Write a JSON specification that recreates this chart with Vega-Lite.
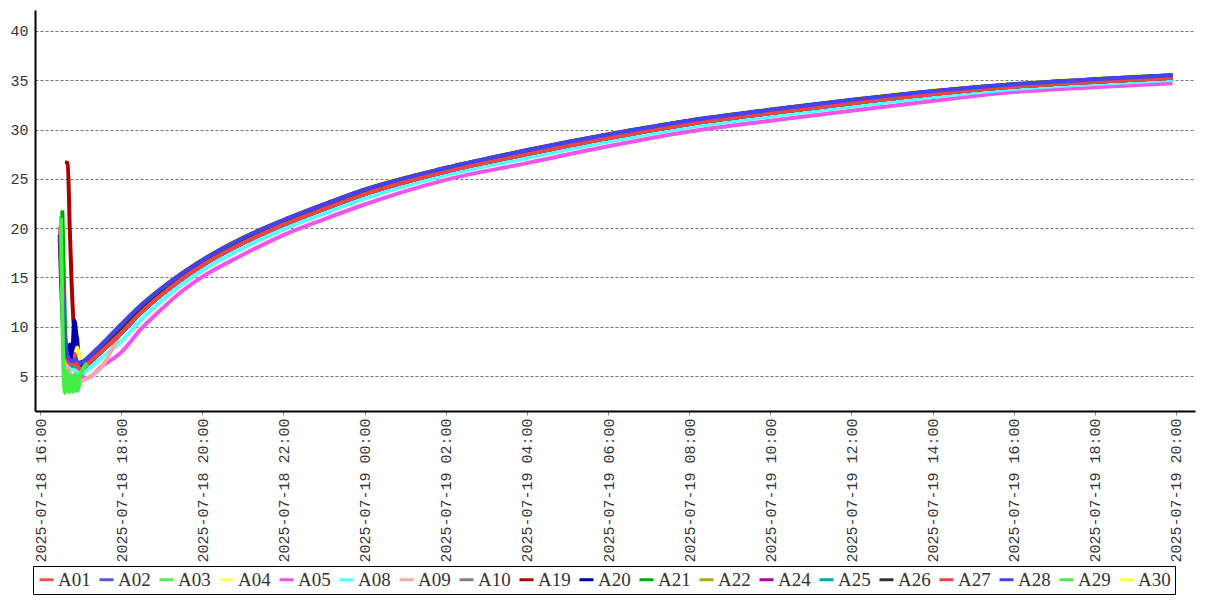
{
"$schema": "https://vega.github.io/schema/vega-lite/v6.json",
"width": 1160, "height": 401,
"autosize": {"type": "none"},
"padding": {"left": 35, "top": 10, "right": 12, "bottom": 189},
"background": "white",
"config": {"view": {"stroke": null}},
"data": {"values": [
{"s":"A01","t":"2025-07-18T16:30","v":20.1},{"s":"A01","t":"2025-07-18T16:35","v":11.0},{"s":"A01","t":"2025-07-18T16:40","v":7.2},{"s":"A01","t":"2025-07-18T16:45","v":6.4},{"s":"A01","t":"2025-07-18T16:50","v":6.0},{"s":"A01","t":"2025-07-18T16:55","v":6.2},{"s":"A01","t":"2025-07-18T17:00","v":5.7},{"s":"A01","t":"2025-07-18T17:05","v":5.9},
{"s":"A01","t":"2025-07-18T17:10","v":6.2},{"s":"A01","t":"2025-07-18T17:30","v":7.44},{"s":"A01","t":"2025-07-18T18:00","v":9.36},{"s":"A01","t":"2025-07-18T18:30","v":11.48},{"s":"A01","t":"2025-07-18T19:00","v":13.27},{"s":"A01","t":"2025-07-18T19:30","v":14.86},{"s":"A01","t":"2025-07-18T20:00","v":16.24},{"s":"A01","t":"2025-07-18T21:00","v":18.49},{"s":"A01","t":"2025-07-18T22:00","v":20.35},{"s":"A01","t":"2025-07-18T23:00","v":21.95},{"s":"A01","t":"2025-07-19T00:00","v":23.45},{"s":"A01","t":"2025-07-19T02:00","v":25.74},{"s":"A01","t":"2025-07-19T04:00","v":27.51},{"s":"A01","t":"2025-07-19T06:00","v":29.14},{"s":"A01","t":"2025-07-19T08:00","v":30.57},{"s":"A01","t":"2025-07-19T10:00","v":31.67},{"s":"A01","t":"2025-07-19T12:00","v":32.67},{"s":"A01","t":"2025-07-19T14:00","v":33.6},{"s":"A01","t":"2025-07-19T16:00","v":34.36},{"s":"A01","t":"2025-07-19T18:00","v":34.86},{"s":"A01","t":"2025-07-19T19:55","v":35.26},

{"s":"A02","t":"2025-07-18T16:30","v":19.3},{"s":"A02","t":"2025-07-18T16:35","v":10.5},{"s":"A02","t":"2025-07-18T16:40","v":7.0},{"s":"A02","t":"2025-07-18T16:45","v":6.6},{"s":"A02","t":"2025-07-18T16:50","v":6.5},{"s":"A02","t":"2025-07-18T16:55","v":6.6},{"s":"A02","t":"2025-07-18T17:00","v":6.2},{"s":"A02","t":"2025-07-18T17:05","v":6.4},
{"s":"A02","t":"2025-07-18T17:10","v":6.8},{"s":"A02","t":"2025-07-18T17:30","v":8.1},{"s":"A02","t":"2025-07-18T18:00","v":10.2},{"s":"A02","t":"2025-07-18T18:30","v":12.2},{"s":"A02","t":"2025-07-18T19:00","v":13.9},{"s":"A02","t":"2025-07-18T19:30","v":15.4},{"s":"A02","t":"2025-07-18T20:00","v":16.75},{"s":"A02","t":"2025-07-18T21:00","v":19.0},{"s":"A02","t":"2025-07-18T22:00","v":20.8},{"s":"A02","t":"2025-07-18T23:00","v":22.4},{"s":"A02","t":"2025-07-19T00:00","v":23.9},{"s":"A02","t":"2025-07-19T02:00","v":26.1},{"s":"A02","t":"2025-07-19T04:00","v":27.9},{"s":"A02","t":"2025-07-19T06:00","v":29.5},{"s":"A02","t":"2025-07-19T08:00","v":30.9},{"s":"A02","t":"2025-07-19T10:00","v":32.0},{"s":"A02","t":"2025-07-19T12:00","v":33.0},{"s":"A02","t":"2025-07-19T14:00","v":33.9},{"s":"A02","t":"2025-07-19T16:00","v":34.6},{"s":"A02","t":"2025-07-19T18:00","v":35.1},{"s":"A02","t":"2025-07-19T19:55","v":35.5},

{"s":"A03","t":"2025-07-18T16:31","v":21.2},{"s":"A03","t":"2025-07-18T16:35","v":9.0},{"s":"A03","t":"2025-07-18T16:38","v":3.5},{"s":"A03","t":"2025-07-18T16:41","v":5.2},{"s":"A03","t":"2025-07-18T16:44","v":3.4},{"s":"A03","t":"2025-07-18T16:47","v":5.0},{"s":"A03","t":"2025-07-18T16:50","v":3.5},{"s":"A03","t":"2025-07-18T16:53","v":5.2},{"s":"A03","t":"2025-07-18T16:56","v":3.6},{"s":"A03","t":"2025-07-18T17:00","v":4.6},{"s":"A03","t":"2025-07-18T17:05","v":5.3},
{"s":"A03","t":"2025-07-18T17:10","v":6.2},{"s":"A03","t":"2025-07-18T17:30","v":7.44},{"s":"A03","t":"2025-07-18T18:00","v":9.36},{"s":"A03","t":"2025-07-18T18:30","v":11.48},{"s":"A03","t":"2025-07-18T19:00","v":13.27},{"s":"A03","t":"2025-07-18T19:30","v":14.86},{"s":"A03","t":"2025-07-18T20:00","v":16.24},{"s":"A03","t":"2025-07-18T21:00","v":18.49},{"s":"A03","t":"2025-07-18T22:00","v":20.35},{"s":"A03","t":"2025-07-18T23:00","v":21.95},{"s":"A03","t":"2025-07-19T00:00","v":23.45},{"s":"A03","t":"2025-07-19T02:00","v":25.74},{"s":"A03","t":"2025-07-19T04:00","v":27.51},{"s":"A03","t":"2025-07-19T06:00","v":29.14},{"s":"A03","t":"2025-07-19T08:00","v":30.57},{"s":"A03","t":"2025-07-19T10:00","v":31.67},{"s":"A03","t":"2025-07-19T12:00","v":32.67},{"s":"A03","t":"2025-07-19T14:00","v":33.6},{"s":"A03","t":"2025-07-19T16:00","v":34.36},{"s":"A03","t":"2025-07-19T18:00","v":34.86},{"s":"A03","t":"2025-07-19T19:55","v":35.26},

{"s":"A04","t":"2025-07-18T16:31","v":19.0},{"s":"A04","t":"2025-07-18T16:36","v":10.0},{"s":"A04","t":"2025-07-18T16:40","v":7.0},{"s":"A04","t":"2025-07-18T16:45","v":6.5},{"s":"A04","t":"2025-07-18T16:50","v":6.8},{"s":"A04","t":"2025-07-18T16:55","v":7.8},{"s":"A04","t":"2025-07-18T17:00","v":6.5},{"s":"A04","t":"2025-07-18T17:05","v":6.6},
{"s":"A04","t":"2025-07-18T17:10","v":6.86},{"s":"A04","t":"2025-07-18T17:30","v":8.16},{"s":"A04","t":"2025-07-18T18:00","v":10.26},{"s":"A04","t":"2025-07-18T18:30","v":12.26},{"s":"A04","t":"2025-07-18T19:00","v":13.96},{"s":"A04","t":"2025-07-18T19:30","v":15.46},{"s":"A04","t":"2025-07-18T20:00","v":16.81},{"s":"A04","t":"2025-07-18T21:00","v":19.06},{"s":"A04","t":"2025-07-18T22:00","v":20.86},{"s":"A04","t":"2025-07-18T23:00","v":22.46},{"s":"A04","t":"2025-07-19T00:00","v":23.96},{"s":"A04","t":"2025-07-19T02:00","v":26.16},{"s":"A04","t":"2025-07-19T04:00","v":27.96},{"s":"A04","t":"2025-07-19T06:00","v":29.56},{"s":"A04","t":"2025-07-19T08:00","v":30.96},{"s":"A04","t":"2025-07-19T10:00","v":32.06},{"s":"A04","t":"2025-07-19T12:00","v":33.06},{"s":"A04","t":"2025-07-19T14:00","v":33.96},{"s":"A04","t":"2025-07-19T16:00","v":34.66},{"s":"A04","t":"2025-07-19T18:00","v":35.16},{"s":"A04","t":"2025-07-19T19:55","v":35.56},

{"s":"A05","t":"2025-07-18T16:30","v":19.5},{"s":"A05","t":"2025-07-18T16:35","v":11.0},{"s":"A05","t":"2025-07-18T16:40","v":7.0},{"s":"A05","t":"2025-07-18T16:45","v":6.0},{"s":"A05","t":"2025-07-18T16:50","v":5.8},{"s":"A05","t":"2025-07-18T16:55","v":5.5},{"s":"A05","t":"2025-07-18T17:00","v":5.0},{"s":"A05","t":"2025-07-18T17:05","v":4.8},
{"s":"A05","t":"2025-07-18T17:10","v":4.8},{"s":"A05","t":"2025-07-18T17:30","v":5.9},{"s":"A05","t":"2025-07-18T18:00","v":7.4},{"s":"A05","t":"2025-07-18T18:30","v":9.8},{"s":"A05","t":"2025-07-18T19:00","v":11.8},{"s":"A05","t":"2025-07-18T19:30","v":13.6},{"s":"A05","t":"2025-07-18T20:00","v":15.05},{"s":"A05","t":"2025-07-18T21:00","v":17.3},{"s":"A05","t":"2025-07-18T22:00","v":19.3},{"s":"A05","t":"2025-07-18T23:00","v":20.9},{"s":"A05","t":"2025-07-19T00:00","v":22.4},{"s":"A05","t":"2025-07-19T02:00","v":24.9},{"s":"A05","t":"2025-07-19T04:00","v":26.6},{"s":"A05","t":"2025-07-19T06:00","v":28.3},{"s":"A05","t":"2025-07-19T08:00","v":29.8},{"s":"A05","t":"2025-07-19T10:00","v":30.9},{"s":"A05","t":"2025-07-19T12:00","v":31.9},{"s":"A05","t":"2025-07-19T14:00","v":32.9},{"s":"A05","t":"2025-07-19T16:00","v":33.8},{"s":"A05","t":"2025-07-19T18:00","v":34.3},{"s":"A05","t":"2025-07-19T19:55","v":34.7},

{"s":"A08","t":"2025-07-18T16:31","v":19.2},{"s":"A08","t":"2025-07-18T16:36","v":10.0},{"s":"A08","t":"2025-07-18T16:40","v":6.8},{"s":"A08","t":"2025-07-18T16:45","v":5.8},{"s":"A08","t":"2025-07-18T16:50","v":5.6},{"s":"A08","t":"2025-07-18T16:55","v":5.4},{"s":"A08","t":"2025-07-18T17:00","v":5.3},{"s":"A08","t":"2025-07-18T17:05","v":5.4},
{"s":"A08","t":"2025-07-18T17:10","v":5.6},{"s":"A08","t":"2025-07-18T17:30","v":6.78},{"s":"A08","t":"2025-07-18T18:00","v":8.52},{"s":"A08","t":"2025-07-18T18:30","v":10.76},{"s":"A08","t":"2025-07-18T19:00","v":12.64},{"s":"A08","t":"2025-07-18T19:30","v":14.32},{"s":"A08","t":"2025-07-18T20:00","v":15.73},{"s":"A08","t":"2025-07-18T21:00","v":17.98},{"s":"A08","t":"2025-07-18T22:00","v":19.9},{"s":"A08","t":"2025-07-18T23:00","v":21.5},{"s":"A08","t":"2025-07-19T00:00","v":23.0},{"s":"A08","t":"2025-07-19T02:00","v":25.38},{"s":"A08","t":"2025-07-19T04:00","v":27.12},{"s":"A08","t":"2025-07-19T06:00","v":28.78},{"s":"A08","t":"2025-07-19T08:00","v":30.24},{"s":"A08","t":"2025-07-19T10:00","v":31.34},{"s":"A08","t":"2025-07-19T12:00","v":32.34},{"s":"A08","t":"2025-07-19T14:00","v":33.3},{"s":"A08","t":"2025-07-19T16:00","v":34.12},{"s":"A08","t":"2025-07-19T18:00","v":34.62},{"s":"A08","t":"2025-07-19T19:55","v":35.02},

{"s":"A09","t":"2025-07-18T16:31","v":19.0},{"s":"A09","t":"2025-07-18T16:36","v":9.5},{"s":"A09","t":"2025-07-18T16:40","v":6.5},{"s":"A09","t":"2025-07-18T16:45","v":5.2},{"s":"A09","t":"2025-07-18T16:50","v":4.7},{"s":"A09","t":"2025-07-18T16:55","v":4.6},{"s":"A09","t":"2025-07-18T17:00","v":4.5},{"s":"A09","t":"2025-07-18T17:05","v":4.6},
{"s":"A09","t":"2025-07-18T17:10","v":4.8},{"s":"A09","t":"2025-07-18T17:30","v":5.8},{"s":"A09","t":"2025-07-18T18:00","v":9.36},{"s":"A09","t":"2025-07-18T18:30","v":11.48},{"s":"A09","t":"2025-07-18T19:00","v":13.27},{"s":"A09","t":"2025-07-18T19:30","v":14.86},{"s":"A09","t":"2025-07-18T20:00","v":16.24},{"s":"A09","t":"2025-07-18T21:00","v":18.49},{"s":"A09","t":"2025-07-18T22:00","v":20.35},{"s":"A09","t":"2025-07-18T23:00","v":21.95},{"s":"A09","t":"2025-07-19T00:00","v":23.45},{"s":"A09","t":"2025-07-19T02:00","v":25.74},{"s":"A09","t":"2025-07-19T04:00","v":27.51},{"s":"A09","t":"2025-07-19T06:00","v":29.14},{"s":"A09","t":"2025-07-19T08:00","v":30.57},{"s":"A09","t":"2025-07-19T10:00","v":31.67},{"s":"A09","t":"2025-07-19T12:00","v":32.67},{"s":"A09","t":"2025-07-19T14:00","v":33.6},{"s":"A09","t":"2025-07-19T16:00","v":34.36},{"s":"A09","t":"2025-07-19T18:00","v":34.86},{"s":"A09","t":"2025-07-19T19:55","v":35.26},

{"s":"A10","t":"2025-07-18T16:30","v":19.3},{"s":"A10","t":"2025-07-18T16:35","v":10.0},{"s":"A10","t":"2025-07-18T16:40","v":7.0},{"s":"A10","t":"2025-07-18T16:45","v":6.5},{"s":"A10","t":"2025-07-18T16:50","v":7.5},{"s":"A10","t":"2025-07-18T16:55","v":9.0},{"s":"A10","t":"2025-07-18T16:57","v":7.0},{"s":"A10","t":"2025-07-18T17:00","v":6.2},{"s":"A10","t":"2025-07-18T17:05","v":6.0},
{"s":"A10","t":"2025-07-18T17:10","v":6.2},{"s":"A10","t":"2025-07-18T17:30","v":7.44},{"s":"A10","t":"2025-07-18T18:00","v":9.36},{"s":"A10","t":"2025-07-18T18:30","v":11.48},{"s":"A10","t":"2025-07-18T19:00","v":13.27},{"s":"A10","t":"2025-07-18T19:30","v":14.86},{"s":"A10","t":"2025-07-18T20:00","v":16.24},{"s":"A10","t":"2025-07-18T21:00","v":18.49},{"s":"A10","t":"2025-07-18T22:00","v":20.35},{"s":"A10","t":"2025-07-18T23:00","v":21.95},{"s":"A10","t":"2025-07-19T00:00","v":23.45},{"s":"A10","t":"2025-07-19T02:00","v":25.74},{"s":"A10","t":"2025-07-19T04:00","v":27.51},{"s":"A10","t":"2025-07-19T06:00","v":29.14},{"s":"A10","t":"2025-07-19T08:00","v":30.57},{"s":"A10","t":"2025-07-19T10:00","v":31.67},{"s":"A10","t":"2025-07-19T12:00","v":32.67},{"s":"A10","t":"2025-07-19T14:00","v":33.6},{"s":"A10","t":"2025-07-19T16:00","v":34.36},{"s":"A10","t":"2025-07-19T18:00","v":34.86},{"s":"A10","t":"2025-07-19T19:55","v":35.26},

{"s":"A19","t":"2025-07-18T16:37","v":26.7},{"s":"A19","t":"2025-07-18T16:41","v":26.6},{"s":"A19","t":"2025-07-18T16:44","v":20.0},{"s":"A19","t":"2025-07-18T16:47","v":14.0},{"s":"A19","t":"2025-07-18T16:51","v":9.0},{"s":"A19","t":"2025-07-18T16:55","v":7.0},{"s":"A19","t":"2025-07-18T17:00","v":6.3},{"s":"A19","t":"2025-07-18T17:05","v":6.1},
{"s":"A19","t":"2025-07-18T17:10","v":6.2},{"s":"A19","t":"2025-07-18T17:30","v":7.44},{"s":"A19","t":"2025-07-18T18:00","v":9.36},{"s":"A19","t":"2025-07-18T18:30","v":11.48},{"s":"A19","t":"2025-07-18T19:00","v":13.27},{"s":"A19","t":"2025-07-18T19:30","v":14.86},{"s":"A19","t":"2025-07-18T20:00","v":16.24},{"s":"A19","t":"2025-07-18T21:00","v":18.49},{"s":"A19","t":"2025-07-18T22:00","v":20.35},{"s":"A19","t":"2025-07-18T23:00","v":21.95},{"s":"A19","t":"2025-07-19T00:00","v":23.45},{"s":"A19","t":"2025-07-19T02:00","v":25.74},{"s":"A19","t":"2025-07-19T04:00","v":27.51},{"s":"A19","t":"2025-07-19T06:00","v":29.14},{"s":"A19","t":"2025-07-19T08:00","v":30.57},{"s":"A19","t":"2025-07-19T10:00","v":31.67},{"s":"A19","t":"2025-07-19T12:00","v":32.67},{"s":"A19","t":"2025-07-19T14:00","v":33.6},{"s":"A19","t":"2025-07-19T16:00","v":34.36},{"s":"A19","t":"2025-07-19T18:00","v":34.86},{"s":"A19","t":"2025-07-19T19:55","v":35.26},

{"s":"A20","t":"2025-07-18T16:30","v":19.0},{"s":"A20","t":"2025-07-18T16:35","v":10.0},{"s":"A20","t":"2025-07-18T16:40","v":7.2},{"s":"A20","t":"2025-07-18T16:44","v":8.2},{"s":"A20","t":"2025-07-18T16:47","v":6.8},{"s":"A20","t":"2025-07-18T16:51","v":10.6},{"s":"A20","t":"2025-07-18T16:54","v":9.0},{"s":"A20","t":"2025-07-18T16:57","v":7.0},{"s":"A20","t":"2025-07-18T17:00","v":6.4},{"s":"A20","t":"2025-07-18T17:05","v":6.5},
{"s":"A20","t":"2025-07-18T17:10","v":6.8},{"s":"A20","t":"2025-07-18T17:30","v":8.1},{"s":"A20","t":"2025-07-18T18:00","v":10.2},{"s":"A20","t":"2025-07-18T18:30","v":12.2},{"s":"A20","t":"2025-07-18T19:00","v":13.9},{"s":"A20","t":"2025-07-18T19:30","v":15.4},{"s":"A20","t":"2025-07-18T20:00","v":16.75},{"s":"A20","t":"2025-07-18T21:00","v":19.0},{"s":"A20","t":"2025-07-18T22:00","v":20.8},{"s":"A20","t":"2025-07-18T23:00","v":22.4},{"s":"A20","t":"2025-07-19T00:00","v":23.9},{"s":"A20","t":"2025-07-19T02:00","v":26.1},{"s":"A20","t":"2025-07-19T04:00","v":27.9},{"s":"A20","t":"2025-07-19T06:00","v":29.5},{"s":"A20","t":"2025-07-19T08:00","v":30.9},{"s":"A20","t":"2025-07-19T10:00","v":32.0},{"s":"A20","t":"2025-07-19T12:00","v":33.0},{"s":"A20","t":"2025-07-19T14:00","v":33.9},{"s":"A20","t":"2025-07-19T16:00","v":34.6},{"s":"A20","t":"2025-07-19T18:00","v":35.1},{"s":"A20","t":"2025-07-19T19:55","v":35.5},

{"s":"A21","t":"2025-07-18T16:33","v":21.8},{"s":"A21","t":"2025-07-18T16:37","v":10.0},{"s":"A21","t":"2025-07-18T16:40","v":7.0},{"s":"A21","t":"2025-07-18T16:45","v":6.3},{"s":"A21","t":"2025-07-18T16:50","v":6.2},{"s":"A21","t":"2025-07-18T16:55","v":6.0},{"s":"A21","t":"2025-07-18T17:00","v":5.8},{"s":"A21","t":"2025-07-18T17:05","v":5.9},
{"s":"A21","t":"2025-07-18T17:10","v":6.2},{"s":"A21","t":"2025-07-18T17:30","v":7.44},{"s":"A21","t":"2025-07-18T18:00","v":9.36},{"s":"A21","t":"2025-07-18T18:30","v":11.48},{"s":"A21","t":"2025-07-18T19:00","v":13.27},{"s":"A21","t":"2025-07-18T19:30","v":14.86},{"s":"A21","t":"2025-07-18T20:00","v":16.24},{"s":"A21","t":"2025-07-18T21:00","v":18.49},{"s":"A21","t":"2025-07-18T22:00","v":20.35},{"s":"A21","t":"2025-07-18T23:00","v":21.95},{"s":"A21","t":"2025-07-19T00:00","v":23.45},{"s":"A21","t":"2025-07-19T02:00","v":25.74},{"s":"A21","t":"2025-07-19T04:00","v":27.51},{"s":"A21","t":"2025-07-19T06:00","v":29.14},{"s":"A21","t":"2025-07-19T08:00","v":30.57},{"s":"A21","t":"2025-07-19T10:00","v":31.67},{"s":"A21","t":"2025-07-19T12:00","v":32.67},{"s":"A21","t":"2025-07-19T14:00","v":33.6},{"s":"A21","t":"2025-07-19T16:00","v":34.36},{"s":"A21","t":"2025-07-19T18:00","v":34.86},{"s":"A21","t":"2025-07-19T19:55","v":35.26},

{"s":"A22","t":"2025-07-18T16:30","v":19.0},{"s":"A22","t":"2025-07-18T16:35","v":10.0},{"s":"A22","t":"2025-07-18T16:40","v":7.0},{"s":"A22","t":"2025-07-18T16:45","v":6.3},{"s":"A22","t":"2025-07-18T16:50","v":6.2},{"s":"A22","t":"2025-07-18T16:55","v":6.3},{"s":"A22","t":"2025-07-18T17:00","v":6.0},{"s":"A22","t":"2025-07-18T17:05","v":6.0},
{"s":"A22","t":"2025-07-18T17:10","v":6.2},{"s":"A22","t":"2025-07-18T17:30","v":7.44},{"s":"A22","t":"2025-07-18T18:00","v":9.36},{"s":"A22","t":"2025-07-18T18:30","v":11.48},{"s":"A22","t":"2025-07-18T19:00","v":13.27},{"s":"A22","t":"2025-07-18T19:30","v":14.86},{"s":"A22","t":"2025-07-18T20:00","v":16.24},{"s":"A22","t":"2025-07-18T21:00","v":18.49},{"s":"A22","t":"2025-07-18T22:00","v":20.35},{"s":"A22","t":"2025-07-18T23:00","v":21.95},{"s":"A22","t":"2025-07-19T00:00","v":23.45},{"s":"A22","t":"2025-07-19T02:00","v":25.74},{"s":"A22","t":"2025-07-19T04:00","v":27.51},{"s":"A22","t":"2025-07-19T06:00","v":29.14},{"s":"A22","t":"2025-07-19T08:00","v":30.57},{"s":"A22","t":"2025-07-19T10:00","v":31.67},{"s":"A22","t":"2025-07-19T12:00","v":32.67},{"s":"A22","t":"2025-07-19T14:00","v":33.6},{"s":"A22","t":"2025-07-19T16:00","v":34.36},{"s":"A22","t":"2025-07-19T18:00","v":34.86},{"s":"A22","t":"2025-07-19T19:55","v":35.26},

{"s":"A24","t":"2025-07-18T16:31","v":19.2},{"s":"A24","t":"2025-07-18T16:35","v":10.5},{"s":"A24","t":"2025-07-18T16:40","v":7.1},{"s":"A24","t":"2025-07-18T16:45","v":6.4},{"s":"A24","t":"2025-07-18T16:50","v":6.1},{"s":"A24","t":"2025-07-18T16:55","v":6.2},{"s":"A24","t":"2025-07-18T17:00","v":5.9},{"s":"A24","t":"2025-07-18T17:05","v":6.0},
{"s":"A24","t":"2025-07-18T17:10","v":6.2},{"s":"A24","t":"2025-07-18T17:30","v":7.44},{"s":"A24","t":"2025-07-18T18:00","v":9.36},{"s":"A24","t":"2025-07-18T18:30","v":11.48},{"s":"A24","t":"2025-07-18T19:00","v":13.27},{"s":"A24","t":"2025-07-18T19:30","v":14.86},{"s":"A24","t":"2025-07-18T20:00","v":16.24},{"s":"A24","t":"2025-07-18T21:00","v":18.49},{"s":"A24","t":"2025-07-18T22:00","v":20.35},{"s":"A24","t":"2025-07-18T23:00","v":21.95},{"s":"A24","t":"2025-07-19T00:00","v":23.45},{"s":"A24","t":"2025-07-19T02:00","v":25.74},{"s":"A24","t":"2025-07-19T04:00","v":27.51},{"s":"A24","t":"2025-07-19T06:00","v":29.14},{"s":"A24","t":"2025-07-19T08:00","v":30.57},{"s":"A24","t":"2025-07-19T10:00","v":31.67},{"s":"A24","t":"2025-07-19T12:00","v":32.67},{"s":"A24","t":"2025-07-19T14:00","v":33.6},{"s":"A24","t":"2025-07-19T16:00","v":34.36},{"s":"A24","t":"2025-07-19T18:00","v":34.86},{"s":"A24","t":"2025-07-19T19:55","v":35.26},

{"s":"A25","t":"2025-07-18T16:30","v":18.8},{"s":"A25","t":"2025-07-18T16:35","v":9.8},{"s":"A25","t":"2025-07-18T16:40","v":6.9},{"s":"A25","t":"2025-07-18T16:45","v":6.2},{"s":"A25","t":"2025-07-18T16:50","v":6.0},{"s":"A25","t":"2025-07-18T16:55","v":6.1},{"s":"A25","t":"2025-07-18T17:00","v":5.8},{"s":"A25","t":"2025-07-18T17:05","v":5.9},
{"s":"A25","t":"2025-07-18T17:10","v":6.2},{"s":"A25","t":"2025-07-18T17:30","v":7.44},{"s":"A25","t":"2025-07-18T18:00","v":9.36},{"s":"A25","t":"2025-07-18T18:30","v":11.48},{"s":"A25","t":"2025-07-18T19:00","v":13.27},{"s":"A25","t":"2025-07-18T19:30","v":14.86},{"s":"A25","t":"2025-07-18T20:00","v":16.24},{"s":"A25","t":"2025-07-18T21:00","v":18.49},{"s":"A25","t":"2025-07-18T22:00","v":20.35},{"s":"A25","t":"2025-07-18T23:00","v":21.95},{"s":"A25","t":"2025-07-19T00:00","v":23.45},{"s":"A25","t":"2025-07-19T02:00","v":25.74},{"s":"A25","t":"2025-07-19T04:00","v":27.51},{"s":"A25","t":"2025-07-19T06:00","v":29.14},{"s":"A25","t":"2025-07-19T08:00","v":30.57},{"s":"A25","t":"2025-07-19T10:00","v":31.67},{"s":"A25","t":"2025-07-19T12:00","v":32.67},{"s":"A25","t":"2025-07-19T14:00","v":33.6},{"s":"A25","t":"2025-07-19T16:00","v":34.36},{"s":"A25","t":"2025-07-19T18:00","v":34.86},{"s":"A25","t":"2025-07-19T19:55","v":35.26},

{"s":"A26","t":"2025-07-18T16:29","v":19.3},{"s":"A26","t":"2025-07-18T16:34","v":10.0},{"s":"A26","t":"2025-07-18T16:40","v":7.0},{"s":"A26","t":"2025-07-18T16:45","v":6.5},{"s":"A26","t":"2025-07-18T16:50","v":6.4},{"s":"A26","t":"2025-07-18T16:55","v":6.5},{"s":"A26","t":"2025-07-18T17:00","v":6.0},{"s":"A26","t":"2025-07-18T17:05","v":6.2},
{"s":"A26","t":"2025-07-18T17:10","v":6.5},{"s":"A26","t":"2025-07-18T17:30","v":7.77},{"s":"A26","t":"2025-07-18T18:00","v":9.78},{"s":"A26","t":"2025-07-18T18:30","v":11.84},{"s":"A26","t":"2025-07-18T19:00","v":13.59},{"s":"A26","t":"2025-07-18T19:30","v":15.13},{"s":"A26","t":"2025-07-18T20:00","v":16.5},{"s":"A26","t":"2025-07-18T21:00","v":18.75},{"s":"A26","t":"2025-07-18T22:00","v":20.58},{"s":"A26","t":"2025-07-18T23:00","v":22.18},{"s":"A26","t":"2025-07-19T00:00","v":23.68},{"s":"A26","t":"2025-07-19T02:00","v":25.92},{"s":"A26","t":"2025-07-19T04:00","v":27.71},{"s":"A26","t":"2025-07-19T06:00","v":29.32},{"s":"A26","t":"2025-07-19T08:00","v":30.74},{"s":"A26","t":"2025-07-19T10:00","v":31.84},{"s":"A26","t":"2025-07-19T12:00","v":32.84},{"s":"A26","t":"2025-07-19T14:00","v":33.75},{"s":"A26","t":"2025-07-19T16:00","v":34.48},{"s":"A26","t":"2025-07-19T18:00","v":34.98},{"s":"A26","t":"2025-07-19T19:55","v":35.38},

{"s":"A27","t":"2025-07-18T16:30","v":20.2},{"s":"A27","t":"2025-07-18T16:34","v":12.0},{"s":"A27","t":"2025-07-18T16:38","v":7.5},{"s":"A27","t":"2025-07-18T16:42","v":6.5},{"s":"A27","t":"2025-07-18T16:46","v":6.2},{"s":"A27","t":"2025-07-18T16:50","v":6.3},{"s":"A27","t":"2025-07-18T16:53","v":7.4},{"s":"A27","t":"2025-07-18T16:56","v":6.0},{"s":"A27","t":"2025-07-18T17:00","v":5.7},{"s":"A27","t":"2025-07-18T17:05","v":5.8},
{"s":"A27","t":"2025-07-18T17:10","v":6.2},{"s":"A27","t":"2025-07-18T17:30","v":7.44},{"s":"A27","t":"2025-07-18T18:00","v":9.36},{"s":"A27","t":"2025-07-18T18:30","v":11.48},{"s":"A27","t":"2025-07-18T19:00","v":13.27},{"s":"A27","t":"2025-07-18T19:30","v":14.86},{"s":"A27","t":"2025-07-18T20:00","v":16.24},{"s":"A27","t":"2025-07-18T21:00","v":18.49},{"s":"A27","t":"2025-07-18T22:00","v":20.35},{"s":"A27","t":"2025-07-18T23:00","v":21.95},{"s":"A27","t":"2025-07-19T00:00","v":23.45},{"s":"A27","t":"2025-07-19T02:00","v":25.74},{"s":"A27","t":"2025-07-19T04:00","v":27.51},{"s":"A27","t":"2025-07-19T06:00","v":29.14},{"s":"A27","t":"2025-07-19T08:00","v":30.57},{"s":"A27","t":"2025-07-19T10:00","v":31.67},{"s":"A27","t":"2025-07-19T12:00","v":32.67},{"s":"A27","t":"2025-07-19T14:00","v":33.6},{"s":"A27","t":"2025-07-19T16:00","v":34.36},{"s":"A27","t":"2025-07-19T18:00","v":34.86},{"s":"A27","t":"2025-07-19T19:55","v":35.26},

{"s":"A28","t":"2025-07-18T16:30","v":19.5},{"s":"A28","t":"2025-07-18T16:35","v":10.5},{"s":"A28","t":"2025-07-18T16:40","v":7.2},{"s":"A28","t":"2025-07-18T16:45","v":6.6},{"s":"A28","t":"2025-07-18T16:50","v":6.5},{"s":"A28","t":"2025-07-18T16:55","v":6.8},{"s":"A28","t":"2025-07-18T17:00","v":6.3},{"s":"A28","t":"2025-07-18T17:05","v":6.5},
{"s":"A28","t":"2025-07-18T17:10","v":6.8},{"s":"A28","t":"2025-07-18T17:30","v":8.1},{"s":"A28","t":"2025-07-18T18:00","v":10.2},{"s":"A28","t":"2025-07-18T18:30","v":12.2},{"s":"A28","t":"2025-07-18T19:00","v":13.9},{"s":"A28","t":"2025-07-18T19:30","v":15.4},{"s":"A28","t":"2025-07-18T20:00","v":16.75},{"s":"A28","t":"2025-07-18T21:00","v":19.0},{"s":"A28","t":"2025-07-18T22:00","v":20.8},{"s":"A28","t":"2025-07-18T23:00","v":22.4},{"s":"A28","t":"2025-07-19T00:00","v":23.9},{"s":"A28","t":"2025-07-19T02:00","v":26.1},{"s":"A28","t":"2025-07-19T04:00","v":27.9},{"s":"A28","t":"2025-07-19T06:00","v":29.5},{"s":"A28","t":"2025-07-19T08:00","v":30.9},{"s":"A28","t":"2025-07-19T10:00","v":32.0},{"s":"A28","t":"2025-07-19T12:00","v":33.0},{"s":"A28","t":"2025-07-19T14:00","v":33.9},{"s":"A28","t":"2025-07-19T16:00","v":34.6},{"s":"A28","t":"2025-07-19T18:00","v":35.1},{"s":"A28","t":"2025-07-19T19:55","v":35.5},

{"s":"A29","t":"2025-07-18T16:31","v":21.0},{"s":"A29","t":"2025-07-18T16:35","v":5.0},{"s":"A29","t":"2025-07-18T16:37","v":3.3},{"s":"A29","t":"2025-07-18T16:40","v":5.5},{"s":"A29","t":"2025-07-18T16:43","v":3.4},{"s":"A29","t":"2025-07-18T16:46","v":5.0},{"s":"A29","t":"2025-07-18T16:49","v":3.4},{"s":"A29","t":"2025-07-18T16:52","v":5.2},{"s":"A29","t":"2025-07-18T16:55","v":3.5},{"s":"A29","t":"2025-07-18T16:58","v":4.8},{"s":"A29","t":"2025-07-18T17:02","v":5.5},{"s":"A29","t":"2025-07-18T17:06","v":6.0},{"s":"A29","t":"2025-07-18T17:10","v":6.3},

{"s":"A30","t":"2025-07-18T16:53","v":7.4},{"s":"A30","t":"2025-07-18T16:55","v":7.9},{"s":"A30","t":"2025-07-18T16:57","v":7.3},{"s":"A30","t":"2025-07-18T17:00","v":6.6}
]},
"mark": {"type": "line", "strokeWidth": 4, "interpolate": "monotone"},
"encoding": {
  "x": {"field": "t", "type": "temporal",
    "scale": {"domain": ["2025-07-18T15:52:36", "2025-07-19T20:28:06"]},
    "axis": {"title": null, "format": "%Y-%m-%d %H:%M", "labelAngle": -90, "labelAlign": "right", "labelBaseline": "middle", "labelFont": "Liberation Mono", "labelFontSize": 15, "labelColor": "#333",
      "values": ["2025-07-18T16:00","2025-07-18T18:00","2025-07-18T20:00","2025-07-18T22:00","2025-07-19T00:00","2025-07-19T02:00","2025-07-19T04:00","2025-07-19T06:00","2025-07-19T08:00","2025-07-19T10:00","2025-07-19T12:00","2025-07-19T14:00","2025-07-19T16:00","2025-07-19T18:00","2025-07-19T20:00"],
      "grid": false, "domainColor": "#000", "domainWidth": 2, "tickColor": "#888", "tickSize": 4, "labelPadding": 3, "labelFlush": false, "labelOverlap": false}},
  "y": {"field": "v", "type": "quantitative",
    "scale": {"domain": [1.45, 42.13], "nice": false, "zero": false},
    "axis": {"title": null, "values": [5, 10, 15, 20, 25, 30, 35, 40], "ticks": false, "labelPadding": 7, "labelFont": "Liberation Mono", "labelFontSize": 15, "labelColor": "#333", "gridDash": [3, 2], "gridColor": "#777", "gridWidth": 1, "domainColor": "#000", "domainWidth": 2}},
  "color": {"field": "s", "type": "nominal",
    "scale": {"domain": ["A01","A02","A03","A04","A05","A08","A09","A10","A19","A20","A21","A22","A24","A25","A26","A27","A28","A29","A30"],
              "range": ["#e85555","#5555e8","#55ee55","#ffff55","#ee55ee","#55ffff","#f4aaaa","#808080","#aa0000","#0000aa","#00aa00","#aaaa00","#aa00aa","#00aaaa","#333333","#ee4444","#4444ee","#44ee44","#ffff44"]},
    "legend": {"title": null, "orient": "none", "legendX": -2, "legendY": 556, "direction": "horizontal", "columns": 19, "symbolType": "stroke", "symbolSize": 196, "symbolStrokeWidth": 3, "labelFont": "Liberation Serif", "labelFontSize": 19, "labelColor": "#333", "labelOffset": 2, "columnPadding": 2, "strokeColor": "#000", "padding": 4, "fillColor": "white", "labelLimit": 0}}
}
}
